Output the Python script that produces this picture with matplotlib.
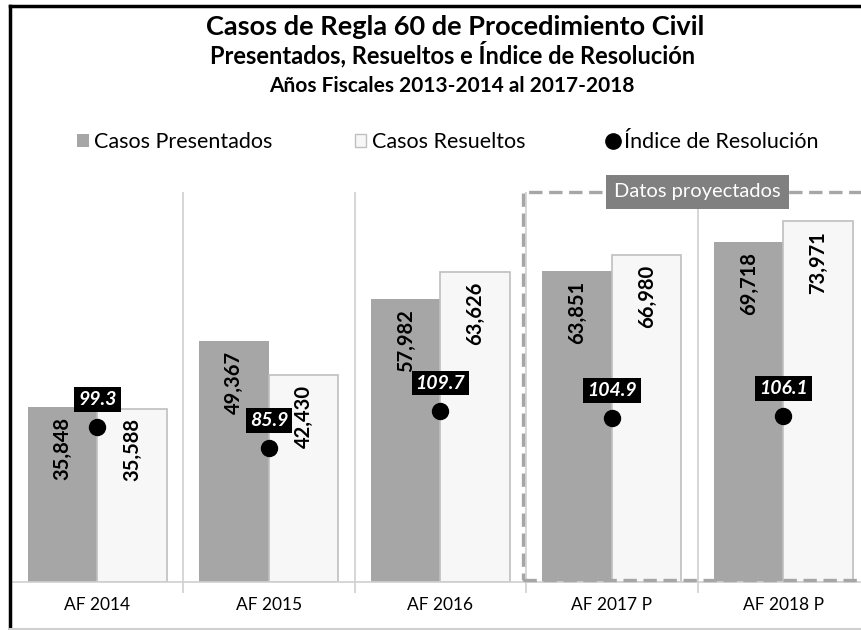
import matplotlib
matplotlib.use("Agg")
import matplotlib.pyplot as plt
from matplotlib.patches import Patch, Rectangle
from matplotlib.lines import Line2D

# ─────────────────────────────────────────────
# Data
# ─────────────────────────────────────────────

YEARS      = ["AF 2014", "AF 2015", "AF 2016", "AF 2017 P", "AF 2018 P"]
PRESENTED  = [35848, 49367, 57982, 63851, 69718]
RESOLVED   = [35588, 42430, 63626, 66980, 73971]
INDEX      = [99.3, 85.9, 109.7, 104.9, 106.1]
PROJ_LABEL = "Datos proyectados"

# ─────────────────────────────────────────────
# Style
# ─────────────────────────────────────────────

plt.rcParams['font.family'] = ['Lato', 'DejaVu Sans']
GRAY      = "#a6a6a6"
EDGE      = "#bfbfbf"
GRID      = "#d0d0d0"
BAR_W     = 0.405

fig = plt.figure(figsize=(8.61, 6.30), dpi=100, facecolor='white')
ax = fig.add_axes([11.7 / 861, 48 / 630, 857.5 / 861, 390 / 630])
x = list(range(len(YEARS)))

ax.bar([i - BAR_W / 2 for i in x], PRESENTED, width=BAR_W, color=GRAY,
       zorder=2)
ax.bar([i + BAR_W / 2 for i in x], RESOLVED, width=BAR_W, color="#f7f7f7",
       edgecolor=EDGE, linewidth=1.2, zorder=2)

ax.set_xlim(-0.5, 4.5)
ax.set_ylim(0, 80000)
ax.set_yticks([])
for s in ['left', 'right', 'top']:
    ax.spines[s].set_visible(False)
ax.spines['bottom'].set_color(GRID)
ax.spines['bottom'].set_linewidth(1.2)

ax.set_xticks(x)
ax.set_xticklabels(YEARS, fontsize=12.5)
ax.tick_params(axis='x', length=0, pad=11)
ax.set_xticks([i + 0.5 for i in x[:-1]], minor=True)
ax.tick_params(axis='x', which='minor', length=8, color=GRID, width=1.2)
for i in x[:-1]:
    ax.axvline(i + 0.5, color=GRID, lw=1.2, zorder=1)

for i in x:
    ax.annotate(f"{PRESENTED[i]:,}", (i - BAR_W / 2, PRESENTED[i]),
                xytext=(0, -7), textcoords='offset points', rotation=90,
                ha='center', va='top', fontsize=14.5, fontweight='bold',
                zorder=3)
    ax.annotate(f"{RESOLVED[i]:,}", (i + BAR_W / 2, RESOLVED[i]),
                xytext=(0, -7), textcoords='offset points', rotation=90,
                ha='center', va='top', fontsize=14.5, fontweight='bold',
                zorder=3)

# projected-data dashed box
ax.add_patch(Rectangle((2.48, 400), 2.2, 79600, fill=False,
                       edgecolor=GRAY, lw=2.4, ls=(0, (4, 2)),
                       clip_on=False, zorder=4))
ax.text(3.5, 80000, PROJ_LABEL, ha='center', va='center', fontsize=14.5,
        color='white', zorder=6,
        bbox=dict(boxstyle='square,pad=0.4', fc='#808080', ec='none'))

# resolution index on secondary axis
ax2 = ax.twinx()
ax2.set_ylim(0, 250)
ax2.set_yticks([])
for s in ax2.spines.values():
    s.set_visible(False)
ax2.plot(x, INDEX, ls='none', marker='o', ms=11.5, color='black', zorder=5)
for i in x:
    ax2.annotate(f"{INDEX[i]:.1f}", (i, INDEX[i]), xytext=(0, 20),
                 textcoords='offset points', ha='center', va='center',
                 fontsize=14, fontweight='bold', style='italic',
                 color='white', zorder=6,
                 bbox=dict(boxstyle='square,pad=0.2', fc='black', ec='none'))

# titles (baselines)
fig.text(455 / 861, 1 - 35 / 630, "Casos de Regla 60 de Procedimiento Civil",
         ha='center', va='baseline', fontsize=19.5, fontweight='bold')
fig.text(453 / 861, 1 - 63 / 630, "Presentados, Resueltos e Índice de Resolución",
         ha='center', va='baseline', fontsize=17, fontweight='bold')
fig.text(452 / 861, 1 - 92 / 630, "Años Fiscales 2013-2014 al 2017-2018",
         ha='center', va='baseline', fontsize=15, fontweight='bold')

handles = [
    Patch(facecolor=GRAY, edgecolor='none', label="Casos Presentados"),
    Patch(facecolor="#f7f7f7", edgecolor=EDGE, label="Casos Resueltos"),
    Line2D([], [], ls='none', marker='o', ms=11, color='black',
           label="Índice de Resolución"),
]
fig.legend(handles=handles, loc='center', bbox_to_anchor=(448 / 861, 1 - 142 / 630),
           ncol=3, frameon=False, fontsize=15.5, handlelength=0.55,
           handleheight=0.55, handletextpad=0.25, columnspacing=3.8)

# outer frame of the chart
fig.add_artist(Line2D([9.5 / 861, 9.5 / 861], [1.5 / 630, 1 - 5.5 / 630],
                      transform=fig.transFigure, color='black', lw=2.5))
fig.add_artist(Line2D([9.5 / 861, 1], [1 - 5.5 / 630, 1 - 5.5 / 630],
                      transform=fig.transFigure, color='black', lw=2.5))
fig.add_artist(Line2D([9.5 / 861, 1], [1.5 / 630, 1.5 / 630],
                      transform=fig.transFigure, color=GRID, lw=1.5))

plt.savefig("out.png", dpi=100, facecolor='white')
plt.close()
